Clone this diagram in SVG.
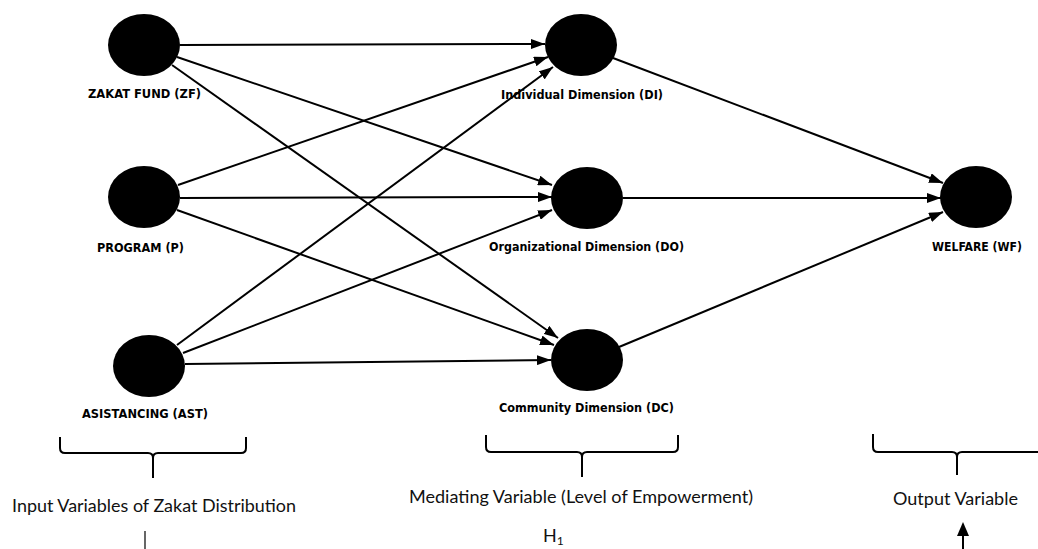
<svg xmlns="http://www.w3.org/2000/svg" width="1038" height="549" viewBox="0 0 1038 549">
<style>
.node{fill:#000}
.lbl{font-family:"DejaVu Sans",sans-serif;font-weight:bold;font-size:12px;fill:#000;text-anchor:middle}
.edge{stroke:#000;stroke-width:2;fill:none;marker-end:url(#ah)}
.brace{stroke:#000;stroke-width:2;fill:none}
.cap{font-family:Lato,"Liberation Sans",sans-serif;font-size:18px;fill:#111}
</style>
<defs>
<marker id="ah" viewBox="0 0 14 10" refX="14" refY="5" markerWidth="14" markerHeight="10" markerUnits="userSpaceOnUse" orient="auto">
<path d="M0,0 L14,5 L0,10 z" fill="#000"/>
</marker>
</defs>
<rect width="1038" height="549" fill="#fff"/>
<g id="connectors">
<line class="edge" x1="180" y1="45" x2="545" y2="44"/>
<line class="edge" x1="177" y1="57" x2="552" y2="185"/>
<line class="edge" x1="172" y1="65" x2="558" y2="338"/>
<line class="edge" x1="178" y1="185" x2="548" y2="57"/>
<line class="edge" x1="180" y1="198" x2="552" y2="197"/>
<line class="edge" x1="177" y1="210" x2="554" y2="345"/>
<line class="edge" x1="177" y1="345" x2="553" y2="67"/>
<line class="edge" x1="183" y1="353" x2="552" y2="210"/>
<line class="edge" x1="185" y1="364" x2="551" y2="360"/>
<line class="edge" x1="613" y1="58" x2="943" y2="183"/>
<line class="edge" x1="623" y1="198" x2="941" y2="198"/>
<line class="edge" x1="619" y1="347" x2="943" y2="212"/>
</g>
<g id="ZF"><ellipse class="node" cx="144" cy="45" rx="36" ry="31"/><text class="lbl" x="144.5" y="98" textLength="113" lengthAdjust="spacingAndGlyphs">ZAKAT FUND (ZF)</text></g>
<g id="P"><ellipse class="node" cx="144" cy="197" rx="36" ry="31"/><text class="lbl" x="140.5" y="252" textLength="87" lengthAdjust="spacingAndGlyphs">PROGRAM (P)</text></g>
<g id="AST"><ellipse class="node" cx="149" cy="366" rx="36" ry="31"/><text class="lbl" x="145" y="418" textLength="126" lengthAdjust="spacingAndGlyphs">ASISTANCING (AST)</text></g>
<g id="DI"><ellipse class="node" cx="581" cy="45" rx="36" ry="31"/><text class="lbl" x="582" y="99" textLength="162" lengthAdjust="spacingAndGlyphs">Individual Dimension (DI)</text></g>
<g id="DO"><ellipse class="node" cx="587" cy="198" rx="36" ry="31"/><text class="lbl" x="586.5" y="251" textLength="195" lengthAdjust="spacingAndGlyphs">Organizational Dimension (DO)</text></g>
<g id="DC"><ellipse class="node" cx="587" cy="360" rx="36" ry="31"/><text class="lbl" x="586.5" y="412" textLength="175" lengthAdjust="spacingAndGlyphs">Community Dimension (DC)</text></g>
<g id="WF"><ellipse class="node" cx="976" cy="197" rx="36" ry="31"/><text class="lbl" x="977" y="251" textLength="90" lengthAdjust="spacingAndGlyphs">WELFARE (WF)</text></g>
<g id="braces">
<path class="brace" d="M60,437 L60,448 Q60,453 65,453 L148,453 Q153,453 153,458 L153,478 M246,437 L246,448 Q246,453 241,453 L158,453 Q153,453 153,458"/>
<path class="brace" d="M486,435 L486,447 Q486,452 491,452 L577,452 Q582,452 582,457 L582,477 M678,435 L678,447 Q678,452 673,452 L587,452 Q582,452 582,457"/>
<path class="brace" d="M873,434 L873,447 Q873,452 878,452 L952,452 Q957,452 957,457 L957,475 M1040,452 L962,452 Q957,452 957,457"/>
</g>
<g id="captions">
<text class="cap" x="12" y="512" textLength="284" lengthAdjust="spacingAndGlyphs">Input Variables of Zakat Distribution</text>
<text class="cap" x="409" y="503" textLength="344" lengthAdjust="spacingAndGlyphs">Mediating Variable (Level of Empowerment)</text>
<text class="cap" x="893" y="505" textLength="125" lengthAdjust="spacingAndGlyphs">Output Variable</text>
<text class="cap" x="543" y="542">H<tspan font-size="12" dy="3">1</tspan></text>
</g>
<line x1="145" y1="531" x2="145" y2="549" stroke="#000" stroke-width="1.2"/>
<g id="out-arrow">
<line x1="963" y1="535" x2="963" y2="549" stroke="#000" stroke-width="2"/>
<path d="M963,522 L957,536 L969,536 z" fill="#000"/>
</g>
</svg>
